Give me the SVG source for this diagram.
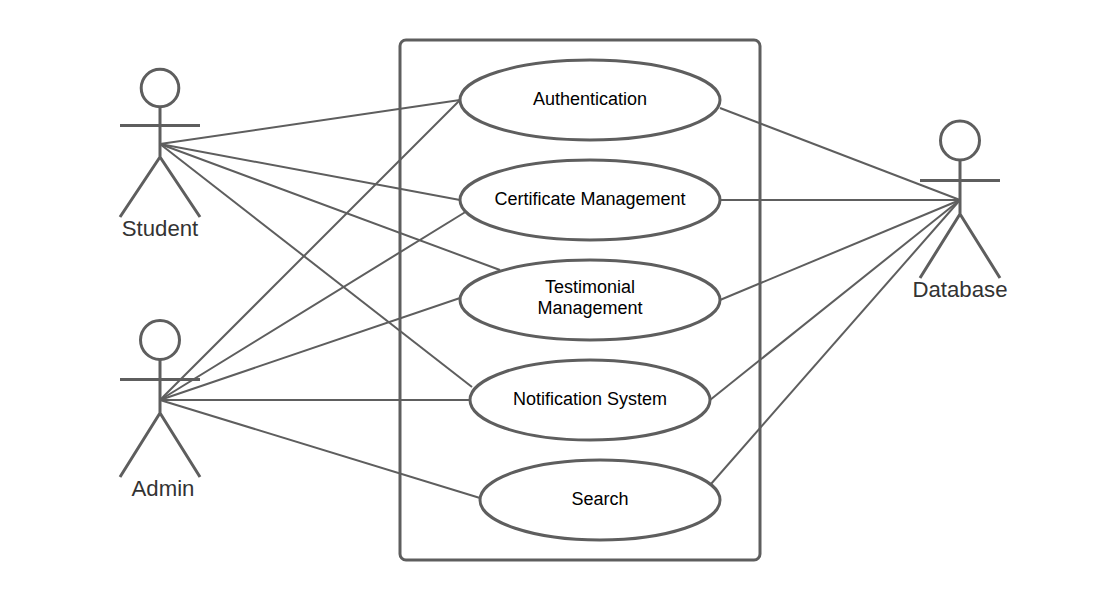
<svg xmlns="http://www.w3.org/2000/svg" width="1120" height="600" viewBox="0 0 1120 600">
<style>
.c{fill:none;stroke:#5e5e5e;stroke-width:2}
.a{fill:none;stroke:#5e5e5e;stroke-width:3}
.u{fill:#fff;stroke:#5e5e5e;stroke-width:3}
.t{font-family:"Liberation Sans",Arial,sans-serif;font-size:18px;fill:#000;text-anchor:middle}
.l{font-family:"Liberation Sans",Arial,sans-serif;font-size:22.200px;fill:#333;text-anchor:middle}
</style>
<rect width="1120" height="600" fill="#fff"/>
<rect id="system-boundary" x="400" y="40" width="360" height="520" rx="6" ry="6" fill="#fff" stroke="#5e5e5e" stroke-width="3"/>
<g id="connectors">
<path class="c" d="M160 144L460 100"/>
<path class="c" d="M160 144L460 200"/>
<path class="c" d="M160 144L500 270"/>
<path class="c" d="M160 144L472 387"/>
<path class="c" d="M160 400L460 100"/>
<path class="c" d="M160 400L467 211"/>
<path class="c" d="M160 400L460 298"/>
<path class="c" d="M160 400L470 400"/>
<path class="c" d="M160 400L480 498"/>
<path class="c" d="M720 108L960 200"/>
<path class="c" d="M720 200L960 200"/>
<path class="c" d="M720 300L960 200"/>
<path class="c" d="M710 400L960 200"/>
<path class="c" d="M711 484L960 200"/>
</g>
<g id="student">
<circle class="a" cx="160" cy="88" r="18.800"/>
<path class="a" d="M160 107V157M120 125.500H200M160 157L120 217M160 157L200 217"/>
<text class="l" x="160" y="236">Student</text>
</g>
<g id="admin">
<circle class="a" cx="160" cy="340" r="19.500"/>
<path class="a" d="M160 360V413M120 379.500H200M160 413L120 477M160 413L200 477"/>
<text class="l" x="163" y="496">Admin</text>
</g>
<g id="database">
<circle class="a" cx="960" cy="140.500" r="19.500"/>
<path class="a" d="M960 160V214M920 180.500H1000M960 214L920 278M960 214L1000 278"/>
<text class="l" x="960" y="297">Database</text>
</g>
<g id="authentication">
<ellipse class="u" cx="590" cy="100" rx="130" ry="40"/>
<text class="t" x="590" y="104.500">Authentication</text>
</g>
<g id="certificate-management">
<ellipse class="u" cx="590" cy="200" rx="130" ry="40"/>
<text class="t" x="590" y="204.500">Certificate Management</text>
</g>
<g id="testimonial-management">
<ellipse class="u" cx="590" cy="300" rx="130" ry="40"/>
<text class="t" x="590" y="292.500">Testimonial</text>
<text class="t" x="590" y="313.500">Management</text>
</g>
<g id="notification-system">
<ellipse class="u" cx="590" cy="400" rx="120" ry="40"/>
<text class="t" x="590" y="404.500">Notification System</text>
</g>
<g id="search">
<ellipse class="u" cx="600" cy="500" rx="120" ry="40"/>
<text class="t" x="600" y="504.500">Search</text>
</g>
</svg>
